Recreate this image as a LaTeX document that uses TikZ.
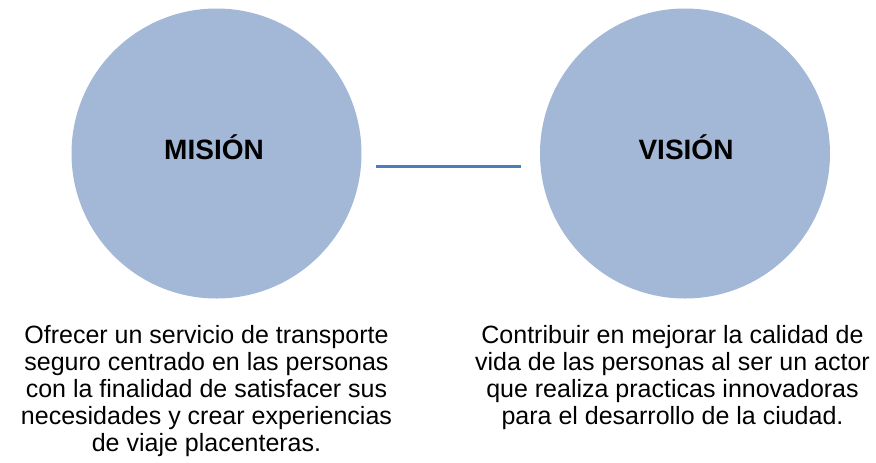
\documentclass[tikz,border=0pt]{standalone}
\usepackage{fontspec}
\setmainfont{Liberation Sans}
\definecolor{circfill}{HTML}{A3B7D7}
\definecolor{linkblue}{HTML}{4A7EBB}
\tikzset{
  bigcirc/.style={circle, fill=circfill, draw=none, inner sep=0pt, minimum size=217.5pt},
  title/.style={inner sep=0pt, anchor=base, font=\fontsize{21}{25}\selectfont\bfseries},
  body/.style={inner sep=0pt, anchor=north, align=center, font=\fontsize{18.75}{20.25}\selectfont}
}
\begin{document}
\begin{tikzpicture}[x=0.75pt,y=0.75pt,yscale=-1,xscale=1]
\useasboundingbox (0,0) rectangle (876,462);

%Shape: Circle
\node [bigcirc] (mision) at (216.5,153.5) {};
%Shape: Circle
\node [bigcirc] (vision) at (685,153.5) {};

%Straight Lines
\coordinate (linkL) at (376,166.5);
\coordinate (linkR) at (521,166.5);
\draw [color=linkblue, line width=2.25pt] (linkL) -- (linkR);

% Text Node
\node [title] (misiontxt) at (214,159) {MISIÓN};
% Text Node
\node [title] (visiontxt) at (686,159) {VISIÓN};
% Text Node
\node [body] (misionbody) at (206.5,325.5) {Ofrecer un servicio de transporte\\seguro centrado en las personas\\con la finalidad de satisfacer sus\\necesidades y crear experiencias\\de viaje placenteras.};
% Text Node
\node [body] (visionbody) at (672.5,325.5) {Contribuir en mejorar la calidad de\\vida de las personas al ser un actor\\que realiza practicas innovadoras\\para el desarrollo de la ciudad.};

\end{tikzpicture}
\end{document}
